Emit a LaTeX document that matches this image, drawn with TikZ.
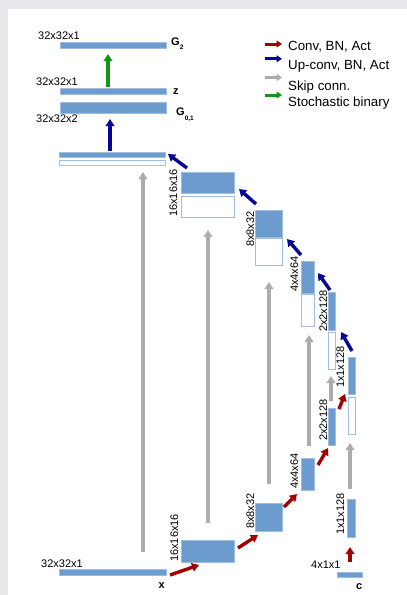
\documentclass[tikz,border=0pt]{standalone}
\usepackage{fontspec}
\setmainfont{Liberation Sans}
\usetikzlibrary{
    arrows.meta,
    calc
}

\definecolor{pagegray}{RGB}{230,232,236}
\definecolor{blockblue}{RGB}{108,155,205}
\definecolor{blockedge}{RGB}{160,188,222}
\definecolor{convred}{RGB}{165,0,0}
\definecolor{upblue}{RGB}{5,5,150}
\definecolor{skipgray}{RGB}{172,172,172}
\definecolor{stochgreen}{RGB}{20,150,20}

\begin{document}
\begin{tikzpicture}[
    x=1pt, y=-1pt,
    >={Triangle[length=7pt, width=8.5pt]},
    blk/.style={
        draw=blockedge,
        fill=blockblue,
        line width=0.6pt,
        inner sep=0pt,
        outer sep=0pt,
        anchor=north west
    },
    hollow/.style={blk, fill=white, line width=0.9pt},
    dimlbl/.style={font=\fontsize{11}{13}\selectfont, inner sep=0pt, anchor=base west},
    vdimlbl/.style={dimlbl, rotate=90},
    tag/.style={font=\fontsize{11}{13}\selectfont\bfseries, inner sep=0pt, anchor=base west},
    legtext/.style={font=\fontsize{13.3}{15}\selectfont, inner sep=0pt, anchor=base west},
    arrow/.style={->, line width=3.4pt},
    conv/.style={arrow, draw=convred},
    upconv/.style={arrow, draw=upblue},
    skipconn/.style={arrow, draw=skipgray},
    stoch/.style={arrow, draw=stochgreen},
    legarrow/.style={-{Triangle[length=5.5pt, width=7pt]}, line width=3pt}
]

% page
\fill[pagegray] (0,0) rectangle (407,595);
\fill[white] (8,9) rectangle (407,595);
\useasboundingbox (0,0) rectangle (407,595);

% name, style, x, y, width, height
\newcommand{\fmap}[6]{%
    \node[#2, minimum width=#5, minimum height=#6] (#1) at (#3,#4) {};
}

% ============================================================
% OUTPUT SIDE
% ============================================================

\fmap{g2}{blk}{60}{42}{106}{6}
\fmap{z}{blk}{60}{88}{106}{6}
\fmap{g01}{blk}{60}{102}{106}{11}

\node[dimlbl] (lg2) at (38,39.5) {32x32x1};
\node[dimlbl] (lz) at (36,85) {32x32x1};
\node[dimlbl] (lg01) at (36,122.5) {32x32x2};

\node[tag] (tg2) at (171,45) {G\raisebox{-4pt}{\fontsize{6.5}{7}\selectfont 2}};
\node[tag] (tz) at (173,94) {z};
\node[tag] (tg01) at (176,115) {G\raisebox{-5pt}{\fontsize{6.5}{7}\selectfont 0,1}};

% ============================================================
% DECODER
% ============================================================

\fmap{d32}{blk}{59}{152}{106}{5}
\fmap{d32s}{hollow}{59}{160}{106}{5}
\fmap{d16}{blk}{181}{172}{53}{21}
\fmap{d16s}{hollow}{181}{196}{53}{21}
\fmap{d8}{blk}{255}{210}{27}{27}
\fmap{d8s}{hollow}{255}{238}{27}{27}
\fmap{d4}{blk}{301}{261}{13}{32}
\fmap{d4s}{hollow}{301}{294}{13}{32}
\fmap{d2}{blk}{328}{292}{7}{38}
\fmap{d2s}{hollow}{328}{332}{7}{37}
\fmap{d1}{blk}{348}{357}{7}{37}
\fmap{d1s}{hollow}{348}{397}{7}{37}

\node[vdimlbl] (ld16) at (177,217) {16x16x16};
\node[vdimlbl] (ld8) at (254,247) {8x8x32};
\node[vdimlbl] (ld4) at (298,292) {4x4x64};
\node[vdimlbl] (ld2) at (327,332) {2x2x128};
\node[vdimlbl] (ld1) at (344,388) {1x1x128};

% ============================================================
% ENCODER
% ============================================================

\fmap{xin}{blk}{59}{569}{107}{6}
\fmap{e16}{blk}{181}{540}{53}{22}
\fmap{e8}{blk}{255}{503}{27}{28}
\fmap{e4}{blk}{301}{458}{13}{32}
\fmap{e2}{blk}{328}{408}{7}{37}
\fmap{cin}{blk}{337}{572}{25}{5}
\fmap{c1}{blk}{347}{499}{8}{38}

\node[dimlbl] (lx) at (41,567) {32x32x1};
\node[dimlbl] (lc) at (311,568) {4x1x1};
\node[vdimlbl] (le16) at (178,562) {16x16x16};
\node[vdimlbl] (le8) at (254,529) {8x8x32};
\node[vdimlbl] (le4) at (298,489) {4x4x64};
\node[vdimlbl] (le2) at (327,441) {2x2x128};
\node[vdimlbl] (lc1) at (344,535) {1x1x128};

\node[tag] (tx) at (158.5,588) {x};
\node[tag] (tc) at (356,589) {c};

% ============================================================
% CONNECTIONS
% ============================================================

\draw[conv] ($(xin.south east)+(4,0)$) -- ($(e16.south west)+(18,3)$);
\draw[conv] ($(e16.north east)+(4,8)$) -- ($(e8.south west)+(3,4)$);
\draw[conv] ($(e8.north east)+(2,4)$) -- ($(e4.south west)+(-4,4)$);
\draw[conv] ($(e4.north east)+(4,7)$) -- ($(e2.south west)+(0,3)$);
\draw[conv] ($(e2.north east)+(4,1)$) -- ($(d1.south west)+(-3,0)$);
\draw[conv] ($(cin.north west)+(13,-10)$) -- ($(c1.south west)+(3,10)$);

\draw[skipconn] ($(xin.north west)+(84,-17)$) -- ($(d32s.south west)+(84,7)$);
\draw[skipconn] ($(e16.north west)+(27,-17)$) -- ($(d16s.south west)+(27,13)$);
\draw[skipconn] ($(e8.north west)+(14,-19)$) -- ($(d8s.south west)+(14,17)$);
\draw[skipconn] ($(e4.north west)+(8,-12)$) -- ($(d4s.south west)+(8,9)$);
\draw[skipconn] ($(e2.north west)+(3,-7)$) -- ($(d2s.south west)+(3,7)$);
\draw[skipconn] ($(c1.north west)+(3,-10)$) -- ($(d1s.south west)+(2,9)$);

\draw[upconv] ($(d1.north west)+(4,-6)$) -- ($(d2s.north east)+(6,0)$);
\draw[upconv] ($(d2.north west)+(2,-2)$) -- ($(d4.north east)+(4,12)$);
\draw[upconv] ($(d4.north west)+(0,-6)$) -- ($(d8.south east)+(5,2)$);
\draw[upconv] ($(d8.north west)+(1,-6)$) -- ($(d16.south east)+(5,-4)$);
\draw[upconv] ($(d16.north west)+(6,-4)$) -- ($(d32.north east)+(3,2)$);
\draw[upconv] ($(d32.north west)+(51,-1)$) -- ($(g01.south west)+(50,6)$);

\draw[stoch] ($(z.north west)+(48,-1)$) -- ($(g2.south west)+(48,6)$);

% ============================================================
% LEGEND
% ============================================================

\node[legtext] (lconv) at (288,50.5) {Conv, BN, Act};
\node[legtext] (lup) at (288,69.3) {Up-conv, BN, Act};
\node[legtext] (lskip) at (288,90.5) {Skip conn.};
\node[legtext] (lstoch) at (288,106) {Stochastic binary};

\draw[legarrow, convred] ($(lconv.base west)+(-23,-6.5)$) -- ($(lconv.base west)+(-6,-6.5)$);
\draw[legarrow, upblue] ($(lup.base west)+(-23,-10.5)$) -- ($(lup.base west)+(-6,-10.5)$);
\draw[legarrow, skipgray] ($(lskip.base west)+(-23,-13)$) -- ($(lskip.base west)+(-6,-13)$);
\draw[legarrow, stochgreen] ($(lstoch.base west)+(-23,-11)$) -- ($(lstoch.base west)+(-6,-11)$);

\end{tikzpicture}
\end{document}
